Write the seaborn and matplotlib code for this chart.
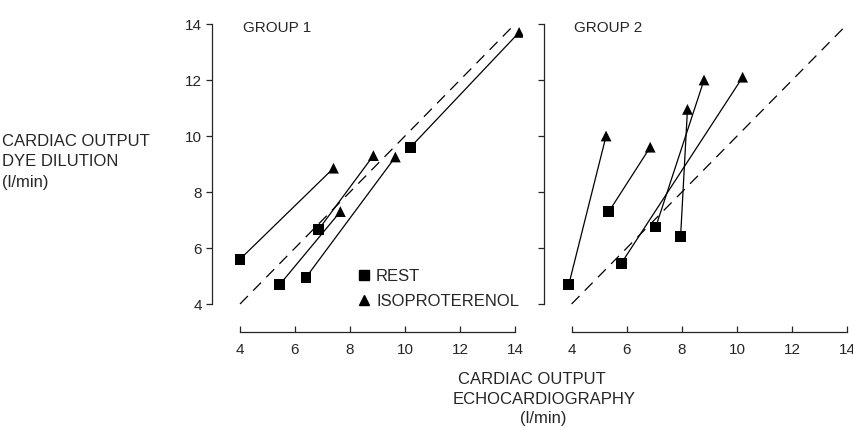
import pandas as pd
import seaborn as sns
import matplotlib.pyplot as plt
from matplotlib.lines import Line2D

# one row per patient: echo / dye dilution cardiac output at rest and on isoproterenol
groups = ["GROUP 1"] * 5 + ["GROUP 2"] * 5
subjects = list(range(1, 11))
rest_echo = [4.0, 5.45, 6.4, 6.85, 10.2, 3.9, 5.35, 5.8, 7.05, 7.95]
rest_dye = [5.6, 4.7, 4.95, 6.65, 9.6, 4.7, 7.3, 5.45, 6.75, 6.4]
iso_echo = [7.4, 7.65, 9.65, 8.85, 14.15, 5.25, 6.85, 10.2, 8.8, 8.2]
iso_dye = [8.85, 7.3, 9.25, 9.3, 13.7, 10.0, 9.6, 12.1, 12.0, 10.95]
identity = [4, 14]
ticks = [4, 6, 8, 10, 12, 14]

rest = pd.DataFrame({"group": groups, "subject": subjects, "condition": "REST",
                     "echo": rest_echo, "dye": rest_dye})
iso = pd.DataFrame({"group": groups, "subject": subjects, "condition": "ISOPROTERENOL",
                    "echo": iso_echo, "dye": iso_dye})
df = pd.concat([rest, iso], ignore_index=True)

sns.set_style("ticks")
plt.rcParams["font.family"] = ["Liberation Sans", "DejaVu Sans"]
plt.rcParams["font.size"] = 11

fig = plt.figure(figsize=(8.54, 4.28), dpi=100)
ax1 = fig.add_axes([212.5 / 854, 96 / 428, 310.75 / 854, 316.4 / 428])
ax2 = fig.add_axes([544 / 854, 96 / 428, 309 / 854, 316.4 / 428])
markers = {"REST": "s", "ISOPROTERENOL": "^"}

for ax, name, xmax in [(ax1, "GROUP 1", 14.3), (ax2, "GROUP 2", 14.2)]:
    sub = df[df["group"] == name]
    ax.plot(identity, identity, color="black", lw=0.9, linestyle=(0, (9, 6)))
    sns.lineplot(data=sub, x="echo", y="dye", units="subject", estimator=None,
                 sort=False, color="black", lw=0.9, ax=ax, legend=False)
    sns.scatterplot(data=sub, x="echo", y="dye", style="condition", markers=markers,
                    color="black", s=60, linewidth=0, ax=ax, legend=False, zorder=3)
    ax.set_xlim(3, xmax)
    ax.set_ylim(3, 14.3)
    ax.set_xticks(ticks)
    ax.set_yticks(ticks)
    ax.spines["top"].set_visible(False)
    ax.spines["right"].set_visible(False)
    ax.spines["left"].set_bounds(4, 14)
    ax.spines["bottom"].set_bounds(4, 14)
    for s in ["left", "bottom"]:
        ax.spines[s].set_linewidth(0.9)
    ax.tick_params(axis="y", direction="out", length=4, width=0.9, labelsize=11)
    ax.tick_params(axis="x", direction="in", length=4, width=0.9, labelsize=11, pad=8)
    ax.set_xlabel("")
    ax.set_ylabel("")
    ax.text(4.1, 13.85, name, ha="left", va="center", fontsize=11)

ax2.tick_params(axis="y", labelleft=False)

handles = [Line2D([], [], marker="s", ls="", color="black", ms=7),
           Line2D([], [], marker="^", ls="", color="black", ms=7)]
ax1.legend(handles, ["REST", "ISOPROTERENOL"], frameon=False, loc="center left",
           bbox_to_anchor=(0.435, 0.135), handletextpad=0.2, handlelength=1,
           borderpad=0, labelspacing=0.6, fontsize=12)

fig.text(2 / 854, 1 - 141 / 428, "CARDIAC OUTPUT", ha="left", va="center", fontsize=12)
fig.text(2 / 854, 1 - 162 / 428, "DYE DILUTION", ha="left", va="center", fontsize=12)
fig.text(2 / 854, 1 - 182 / 428, "(l/min)", ha="left", va="center", fontsize=12)
fig.text(532 / 854, 1 - 380 / 428, "CARDIAC OUTPUT", ha="center", va="center", fontsize=12)
fig.text(544 / 854, 1 - 399 / 428, "ECHOCARDIOGRAPHY", ha="center", va="center", fontsize=12)
fig.text(543 / 854, 1 - 418 / 428, "(l/min)", ha="center", va="center", fontsize=12)

fig.savefig("out.png", dpi=100)
